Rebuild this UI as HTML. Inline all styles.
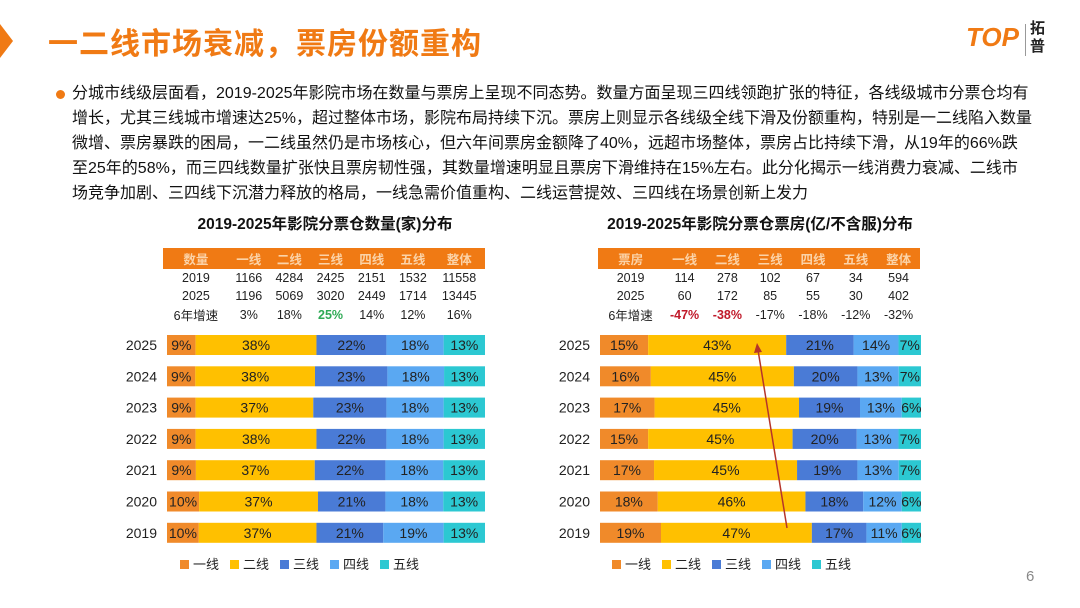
<!DOCTYPE html>
<html><head><meta charset="utf-8">
<style>
body{margin:0;width:1080px;height:608px;background:#fff;font-family:"Liberation Sans","Noto Sans CJK SC",sans-serif;position:relative;overflow:hidden}
.abs{position:absolute}
.title{left:48px;top:19px;font-size:30px;font-weight:bold;color:#F07A14;letter-spacing:1px}
.para{left:72px;top:81px;font-size:16px;line-height:25px;color:#111;white-space:nowrap}
.ct{font-size:15.5px;font-weight:bold;color:#111;text-align:center}
table{border-collapse:collapse;font-size:12.5px;color:#222}
td{text-align:center;padding:0;height:18px}
th{background:#F07A14;color:#FBD3A8;font-weight:bold;height:18px;font-size:12.5px}
</style></head><body>
<div class="abs" style="left:0;top:24px;width:0;height:0;border-top:17px solid transparent;border-bottom:17px solid transparent;border-left:13px solid #F07A14"></div>
<div class="abs title">一二线市场衰减，票房份额重构</div>
<div class="abs" style="left:966px;top:22px;font-weight:bold;font-size:26px;color:#F07A14;font-style:italic">TOP</div>
<div class="abs" style="left:1025px;top:24px;width:1px;height:32px;background:#999"></div>
<div class="abs" style="left:1030px;top:20px;font-size:15px;font-weight:bold;line-height:18px;color:#222">拓<br>普</div>
<div class="abs" style="left:56px;top:90px;width:9px;height:9px;border-radius:50%;background:#F07A14"></div>
<div class="abs para">分城市线级层面看，2019-2025年影院市场在数量与票房上呈现不同态势。数量方面呈现三四线领跑扩张的特征，各线级城市分票仓均有<br>增长，尤其三线城市增速达25%，超过整体市场，影院布局持续下沉。票房上则显示各线级全线下滑及份额重构，特别是一二线陷入数量<br>微增、票房暴跌的困局，一二线虽然仍是市场核心，但六年间票房金额降了40%，远超市场整体，票房占比持续下滑，从19年的66%跌<br>至25年的58%，而三四线数量扩张快且票房韧性强，其数量增速明显且票房下滑维持在15%左右。此分化揭示一线消费力衰减、二线市<br>场竞争加剧、三四线下沉潜力释放的格局，一线急需价值重构、二线运营提效、三四线在场景创新上发力</div>

<div class="abs ct" style="left:160px;top:212px;width:330px">2019-2025年影院分票仓数量(家)分布</div>
<div class="abs ct" style="left:590px;top:212px;width:340px">2019-2025年影院分票仓票房(亿/不含服)分布</div>

<table class="abs" style="left:163px;top:248px;width:322px">
<tr><th>数量</th><th>一线</th><th>二线</th><th>三线</th><th>四线</th><th>五线</th><th>整体</th></tr>
<tr><td>2019</td><td>1166</td><td>4284</td><td>2425</td><td>2151</td><td>1532</td><td>11558</td></tr>
<tr><td>2025</td><td>1196</td><td>5069</td><td>3020</td><td>2449</td><td>1714</td><td>13445</td></tr>
<tr><td>6年增速</td><td>3%</td><td>18%</td><td style="color:#2EAA55;font-weight:bold">25%</td><td>14%</td><td>12%</td><td>16%</td></tr>
</table>
<table class="abs" style="left:598px;top:248px;width:322px">
<tr><th>票房</th><th>一线</th><th>二线</th><th>三线</th><th>四线</th><th>五线</th><th>整体</th></tr>
<tr><td>2019</td><td>114</td><td>278</td><td>102</td><td>67</td><td>34</td><td>594</td></tr>
<tr><td>2025</td><td>60</td><td>172</td><td>85</td><td>55</td><td>30</td><td>402</td></tr>
<tr><td>6年增速</td><td style="color:#C0192A;font-weight:bold">-47%</td><td style="color:#C0192A;font-weight:bold">-38%</td><td>-17%</td><td>-18%</td><td>-12%</td><td>-32%</td></tr>
</table>

<svg class="abs" id="chart" style="left:0;top:0" width="1080" height="608"></svg>
<div class="abs" style="left:1026px;top:568px;font-size:15px;color:#888">6</div>

<script>
const years=["2025","2024","2023","2022","2021","2020","2019"];
const series=["一线","二线","三线","四线","五线"];
const countShares=[[9,38,22,18,13],[9,38,23,18,13],[9,37,23,18,13],[9,38,22,18,13],[9,37,22,18,13],[10,37,21,18,13],[10,37,21,19,13]];
const boxShares=[[15,43,21,14,7],[16,45,20,13,7],[17,45,19,13,6],[15,45,20,13,7],[17,45,19,13,7],[18,46,18,12,6],[19,47,17,11,6]];
const colors=["#F08A2A","#FFC000","#4A7BD6","#5AA8F2","#2CC8D2"];
const svg=document.getElementById('chart');
const NS="http://www.w3.org/2000/svg";
function mk(t,a){const e=document.createElementNS(NS,t);for(const k in a)e.setAttribute(k,a[k]);svg.appendChild(e);return e;}
const rowY=i=>345+i*31.3;
function drawChart(x0,x1,data,prefix,legX){
  const sx=v=>v*(x1-x0);
  data.forEach((row,i)=>{
    const tot=row.reduce((a,b)=>a+b,0);let x=x0;const y=rowY(i);
    const yl=mk('text',{x:x0-10,y:y+5,'text-anchor':'end','font-size':14,fill:'#222'});yl.textContent=years[i];
    
    
    row.forEach((v,j)=>{
      const w=sx(v/tot);
      const r=mk('rect',{x:x,y:y-10,width:w,height:20,fill:colors[j]});
      
      
      const t=mk('text',{x:x+w/2,y:y+5,'text-anchor':'middle','font-size':14,fill:'#222'});t.textContent=v+'%';
      
      
      x+=w;
    });
  });
  series.forEach((s,j)=>{
    const lx=legX+j*50;
    const r=mk('rect',{x:lx,y:560,width:9,height:9,fill:colors[j]});
    
    
    const t=mk('text',{x:lx+13,y:569,'font-size':13,fill:'#222'});t.textContent=s;
    
    
  });
}
drawChart(167,485,countShares,'count',180);
drawChart(600,921,boxShares,'box',612);
const ar=mk('line',{x1:787,y1:528,x2:758,y2:350,stroke:'#B5342A','stroke-width':1.5});


const ah=mk('polygon',{points:'757,343 754,353 762,352',fill:'#B5342A'});


</script>
</body></html>
